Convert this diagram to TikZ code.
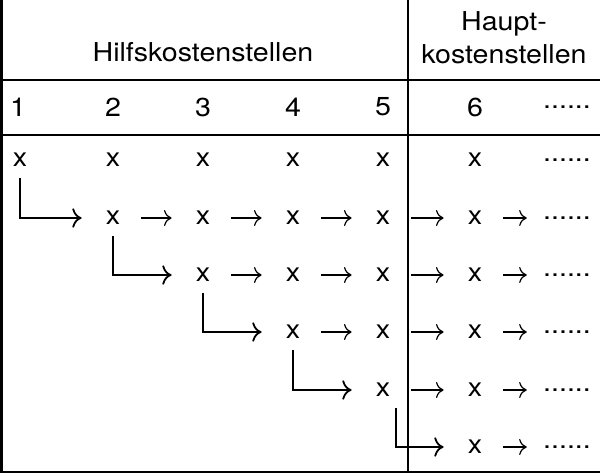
\documentclass[tikz,border=0pt]{standalone}
\usepackage{fontspec}
\setmainfont{TeX Gyre Heros}[FakeStretch=1.1]
\usetikzlibrary{arrows.meta}

\begin{document}
\begin{tikzpicture}[
  x=0.5pt, y=-0.5pt,
  every node/.style={font=\fontsize{13}{16.5}\selectfont, inner sep=0pt},
  cell/.style={minimum width=15pt, minimum height=12pt},
  arr/.style={-{To[scale=1.3]}, line width=0.6pt, shorten <=6.5pt, shorten >=8pt},
  elbow/.style={-{To[scale=1.3]}, line width=0.9pt, shorten <=3pt, shorten >=8pt},
  rule/.style={line width=1.1pt}
]
\useasboundingbox (0,0) rectangle (600,475);
\draw[line width=1.5pt] (1.5,0) -- (1.5,472);
\draw[rule] (408,0) -- (408,472);
\draw[rule] (0,80) -- (600,80);
\draw[rule] (0,135) -- (600,135);
\draw[rule] (0,472) -- (600,472);

\node (hilfs) at (203,52) {Hilfskostenstellen};
\node (haupt) [align=center] at (504,38) {Haupt-\\kostenstellen};
\foreach \col/\cx in {1/18,2/113,3/203,4/293,5/383,6/475}
  \node (n\col) at (\cx,107) {\col};
\node (nd) at (567,107) {......};

\foreach \row/\ry in {0/160,1/218,2/275,3/332,4/390,5/447} {
  \foreach \col/\cx in {1/20,2/113,3/203,4/293,5/383,6/475} {
    \ifnum\col>\row \node[cell] (x\row\col) at (\cx,\ry) {x}; \fi
  }
  \node[cell] (d\row) at (567,\ry) {......};
}

\draw[elbow] (x01.south) |- (x12);
\draw[elbow] (x12.south) |- (x23);
\draw[elbow] (x23.south) |- (x34);
\draw[elbow] (x34.south) |- (x45);
\draw[elbow] ([xshift=6.5pt]x45.south) |- (x56);

\foreach \row/\first in {1/2,2/3,3/4,4/5} {
  \foreach \col in {\first,...,5} {
    \pgfmathtruncatemacro\nxt{\col+1}
    \draw[arr] (x\row\col) -- (x\row\nxt);
  }
}
\foreach \row in {1,...,5}
  \draw[arr] (x\row6) -- (d\row);
\end{tikzpicture}
\end{document}
